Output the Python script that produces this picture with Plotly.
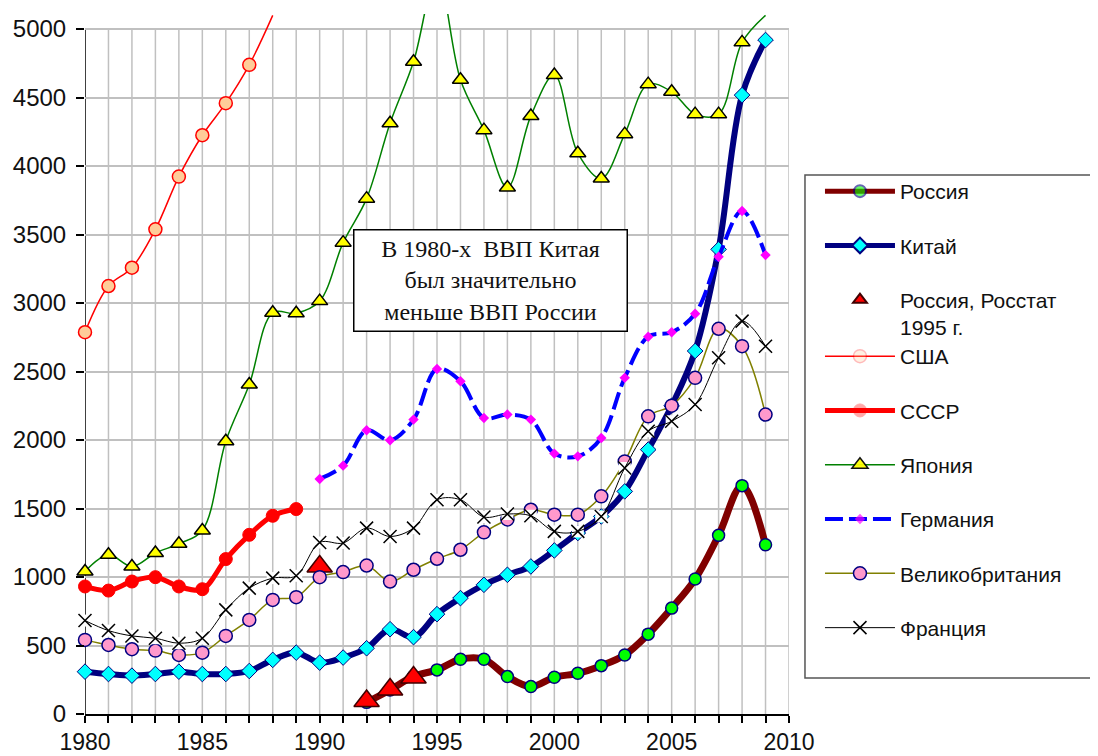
import plotly.graph_objects as go

years = list(range(1980, 2010))
N = None

russia = [N] * 12 + [85, 175, 275, 322, 400, 400, 273, 200, 268, 297, 353, 431,
                     583, 773, 985, 1304, 1667, 1235]
china = [309, 292, 280, 292, 309, 292, 292, 314, 395, 448, 375, 412, 480, 619, 561,
         729, 846, 943, 1016, 1077, 1194, 1321, 1442, 1625, 1930, 2250, 2650, 3392,
         4518, 4920]
rosstat = [N] * 10 + [1077, N, 95, 179, 267] + [N] * 15
usa = [2787, 3124, 3258, 3538, 3923, 4225, 4459, 4739, 5100] + [N] * 21
ussr = [931, 901, 967, 999, 931, 911, 1131, 1308, 1447, 1496] + [N] * 20
japan = [1040, 1162, 1077, 1175, 1243, 1340, 1991, 2405, 2929, 2925, 3014, 3441,
         3762, 4313, 4761, 5400, 4630, 4262, 3843, 4366, 4664, 4094, 3909, 4233,
         4598, 4542, 4379, 4379, 4903, 5100]
germany = [N] * 10 + [1716, 1813, 2071, 1998, 2149, 2519, 2429, 2161, 2186, 2149,
                      1901, 1881, 2015, 2454, 2754, 2787, 2922, 3338, 3672, 3350]
uk = [541, 504, 473, 463, 431, 448, 570, 687, 833, 853, 999, 1036, 1084, 967, 1053,
      1133, 1199, 1326, 1420, 1491, 1455, 1455, 1589, 1844, 2173, 2251, 2454, 2812,
      2685, 2186]
france = [682, 609, 570, 553, 517, 553, 760, 919, 992, 1009, 1252, 1248, 1357, 1296,
          1357, 1564, 1564, 1438, 1460, 1447, 1333, 1333, 1442, 1796, 2064, 2137,
          2259, 2600, 2868, 2685]

y_ticks = list(range(0, 5001, 500))
x_label_years = list(range(1980, 2011, 5))
note_text = "В 1980-х&nbsp; ВВП Китая<br>был значительно<br>меньше ВВП России"

GRID_TOP = 5000
Y_MAX = 5110


def vis(vals):
    # markers outside the plotting grid are not drawn (as in the original)
    return [1 if (v is not None and v <= GRID_TOP) else 0 for v in vals]


fig = go.Figure()


def add(name, vals, legend, line=None, marker=None, mode="lines+markers", show=True):
    fig.add_trace(go.Scatter(
        x=years, y=vals, name=name, mode=mode,
        line=line, marker=marker, legend=legend,
        legendgroup=name if show else None, showlegend=show,
        cliponaxis=False, connectgaps=False, hoverinfo="skip",
    ))


add("Россия", russia, "legend",
    line=dict(color="#800000", width=7, shape="spline"),
    marker=dict(symbol="circle", size=12, color="#00ff00",
                line=dict(color="#000080", width=1.5), opacity=vis(russia)))
add("Китай", china, "legend",
    line=dict(color="#000080", width=6, shape="spline"),
    marker=dict(symbol="diamond", size=12, color="#00ffff",
                line=dict(color="#000080", width=1), opacity=vis(china)))
add("Россия, Росстат<br>1995 г.", rosstat, "legend", mode="markers",
    marker=dict(symbol="triangle-up", size=22, color="#ff0000",
                line=dict(color="#400000", width=1.5)))
add("США", usa, "legend2",
    line=dict(color="#ff0000", width=1.5, shape="spline"),
    marker=dict(symbol="circle", size=13, color="#ffcc99",
                line=dict(color="#ff0000", width=1.5), opacity=vis(usa)))
add("СССР", ussr, "legend2",
    line=dict(color="#ff0000", width=5, shape="spline"),
    marker=dict(symbol="circle", size=13, color="#ff0000",
                line=dict(color="#ff0000", width=1), opacity=vis(ussr)))
add("Япония", japan, "legend2",
    line=dict(color="#008000", width=1.5, shape="spline"),
    marker=dict(symbol="triangle-up", size=14, color="#ffff00",
                line=dict(color="#000000", width=1.5), opacity=vis(japan)))
add("Германия", germany, "legend2",
    line=dict(color="#0000ff", width=4, shape="spline", dash="18px,6px"),
    marker=dict(symbol="diamond", size=8, color="#ff00ff",
                line=dict(width=0), opacity=vis(germany)))
add("Великобритания", uk, "legend2",
    line=dict(color="#808000", width=1.5, shape="spline"),
    marker=dict(symbol="circle", size=13, color="#ff99cc",
                line=dict(color="#000080", width=1.5), opacity=vis(uk)))
# white backgrounds of the France markers (mask the lines underneath)
add("Франция_bg", france, "legend2", mode="markers", show=False,
    marker=dict(symbol="square", size=12, color="#ffffff", line=dict(width=0)))
add("Франция", france, "legend2",
    line=dict(color="#000000", width=1, shape="spline"),
    marker=dict(symbol="x-thin-open", size=13, color="#000000",
                line=dict(color="#000000", width=1.5), opacity=vis(france)))

shapes = []
for yr in range(1981, 2011):
    shapes.append(dict(type="line", xref="x", yref="y", x0=yr, x1=yr, y0=0, y1=GRID_TOP,
                       line=dict(color="#c0c0c0", width=1.5), layer="below"))
shapes.append(dict(type="line", xref="x", yref="y", x0=1980, x1=1980, y0=0, y1=GRID_TOP,
                   line=dict(color="#000000", width=1.5), layer="below"))
# legend frame
shapes.append(dict(type="rect", xref="paper", yref="paper", x0=1.0227, x1=1.45,
                   y0=0.0514, y1=0.770, line=dict(color="#555555", width=1.5),
                   fillcolor="rgba(0,0,0,0)", layer="above"))

fig.update_layout(
    width=1090, height=748,
    margin=dict(l=77, r=309, t=6, b=42, autoexpand=False),
    paper_bgcolor="white", plot_bgcolor="white",
    font=dict(family="Liberation Sans", size=22, color="#111111"),
    hovermode=False,
    shapes=shapes,
    xaxis=dict(range=[1980, 2010], tickmode="array", tickvals=x_label_years,
               ticktext=[str(v) for v in x_label_years], showgrid=False,
               zeroline=False, showline=True, linecolor="#000000", linewidth=1.5,
               ticks="outside", ticklen=7, tickcolor="#000000", tickwidth=1.5,
               automargin=False,
               minor=dict(dtick=1, tick0=1980, ticks="outside", ticklen=7,
                          tickcolor="#000000", tickwidth=1.5, showgrid=False),
               tickfont=dict(family="Liberation Sans", size=23, color="#111111")),
    yaxis=dict(range=[0, Y_MAX], tickmode="array", tickvals=y_ticks,
               ticktext=[str(v) for v in y_ticks], showgrid=True,
               gridcolor="#c0c0c0", gridwidth=1.5, zeroline=False, showline=False,
               ticks="outside", ticklen=8, tickcolor="#000000", tickwidth=1.5,
               automargin=False, ticklabelstandoff=5,
               tickfont=dict(family="Liberation Sans", size=24, color="#111111")),
    legend=dict(x=1.044, y=0.7757, xanchor="left", yanchor="top",
                bgcolor="rgba(0,0,0,0)", borderwidth=0, tracegroupgap=24,
                valign="top", itemsizing="constant", itemwidth=70,
                font=dict(family="Liberation Sans", size=21, color="#111111")),
    legend2=dict(x=1.044, y=0.54, xanchor="left", yanchor="top",
                 bgcolor="rgba(0,0,0,0)", borderwidth=0, tracegroupgap=24,
                 itemwidth=70,
                 font=dict(family="Liberation Sans", size=21, color="#111111")),
    annotations=[dict(x=1997.28, y=3162, xref="x", yref="y", text=note_text,
                      showarrow=False, align="center", width=268, height=96,
                      bgcolor="white", bordercolor="#000000", borderwidth=1.5,
                      borderpad=2,
                      font=dict(family="Liberation Serif", size=24, color="#111111"))],
)

fig.write_html("out.html")
